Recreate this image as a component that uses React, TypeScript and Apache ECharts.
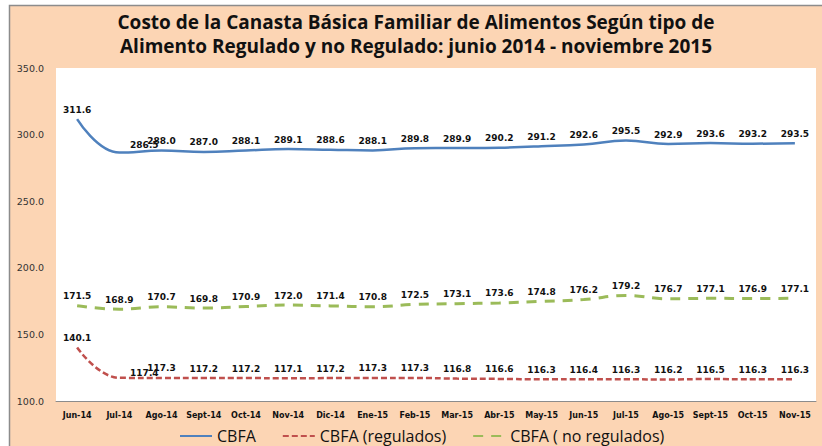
import React, { useEffect, useRef } from "react";
import * as echarts from "echarts";

const categories = ["Jun-14", "Jul-14", "Ago-14", "Sept-14", "Oct-14", "Nov-14", "Dic-14", "Ene-15", "Feb-15", "Mar-15", "Abr-15", "May-15", "Jun-15", "Jul-15", "Ago-15", "Sept-15", "Oct-15", "Nov-15"];
const cbfa = [311.6, 286.5, 288.0, 287.0, 288.1, 289.1, 288.6, 288.1, 289.8, 289.9, 290.2, 291.2, 292.6, 295.5, 292.9, 293.6, 293.2, 293.5];
const regulados = [140.1, 117.4, 117.3, 117.2, 117.2, 117.1, 117.2, 117.3, 117.3, 116.8, 116.6, 116.3, 116.4, 116.3, 116.2, 116.5, 116.3, 116.3];
const noRegulados = [171.5, 168.9, 170.7, 169.8, 170.9, 172.0, 171.4, 170.8, 172.5, 173.1, 173.6, 174.8, 176.2, 179.2, 176.7, 177.1, 176.9, 177.1];
const seriesNames = ["CBFA", "CBFA (regulados)", "CBFA ( no regulados)"];
const titleText = "Costo de la Canasta Básica Familiar de Alimentos Según tipo de\nAlimento Regulado y no Regulado: junio 2014 - noviembre 2015";

const labelStyle = {
  show: true,
  position: "top" as const,
  distance: 5,
  fontFamily: "DejaVu Sans",
  fontWeight: "bold" as const,
  fontSize: 9,
  color: "#111",
  formatter: (p: any) => Number(p.value).toFixed(1),
};

export default function App() {
  const ref = useRef<HTMLDivElement>(null);
  useEffect(() => {
    if (!ref.current) return;
    const chart = echarts.init(ref.current, undefined, { renderer: "svg" });
    const mk = (arr: number[], off: number[] | null) =>
      arr.map((v, i) => (i === 1 && off ? { value: v, label: { offset: off } } : v));
    const common = {
      type: "line",
      smooth: 0.45,
      symbol: "circle",
      symbolSize: 0,
      showSymbol: true,
      label: labelStyle,
    };
    chart.setOption({
      animation: false,
      backgroundColor: "#ffffff",
      graphic: [
        {
          type: "rect",
          z: -100,
          shape: { x: 9.5, y: 5.5, width: 830, height: 460 },
          style: { fill: "#FCD5B4", stroke: "#8c8c8c", lineWidth: 1.5 },
        },
      ],
      title: {
        text: titleText,
        left: 411,
        top: 5,
        textAlign: "center",
        textStyle: {
          fontFamily: "Open Sans",
          fontWeight: "bold",
          fontSize: 19,
          lineHeight: 24,
          color: "#111",
        },
      },
      legend: {
        left: 174,
        top: 423,
        itemWidth: 32,
        itemHeight: 10,
        itemGap: 26,
        itemStyle: { opacity: 0 },
        textStyle: { fontFamily: "Open Sans", fontSize: 16, color: "#111" },
        data: seriesNames,
      },
      grid: {
        left: 56,
        right: 6,
        top: 68,
        bottom: 45,
        show: true,
        backgroundColor: "#ffffff",
        borderWidth: 0,
      },
      xAxis: {
        type: "category",
        data: categories,
        boundaryGap: true,
        axisLine: { show: true, lineStyle: { color: "#8c8c8c", width: 1 } },
        axisTick: { show: false },
        axisLabel: {
          fontFamily: "DejaVu Sans",
          fontWeight: "bold",
          fontSize: 8,
          color: "#111",
          margin: 10,
          interval: 0,
        },
      },
      yAxis: {
        type: "value",
        min: 100,
        max: 350,
        interval: 50,
        axisLine: { show: false },
        axisTick: { show: false },
        splitLine: { show: false },
        axisLabel: {
          fontFamily: "DejaVu Sans",
          fontSize: 9.5,
          color: "#333",
          margin: 12,
          formatter: (v: number) => v.toFixed(1),
        },
      },
      series: [
        {
          ...common,
          name: seriesNames[0],
          data: mk(cbfa, [25, 2]),
          lineStyle: { color: "#4F81BD", width: 2.5 },
          itemStyle: { color: "#4F81BD" },
        },
        {
          ...common,
          name: seriesNames[1],
          data: mk(regulados, [25, 5]),
          lineStyle: { color: "#C0504D", width: 2.5, type: [6, 3] },
          itemStyle: { color: "#C0504D" },
        },
        {
          ...common,
          name: seriesNames[2],
          data: noRegulados,
          lineStyle: { color: "#9BBB59", width: 3, type: [10, 8] },
          itemStyle: { color: "#9BBB59" },
        },
      ],
    });
    return () => chart.dispose();
  }, []);
  return (
    <div
      ref={ref}
      style={{ position: "absolute", left: 0, top: 0, width: 822, height: 446 }}
    />
  );
}
